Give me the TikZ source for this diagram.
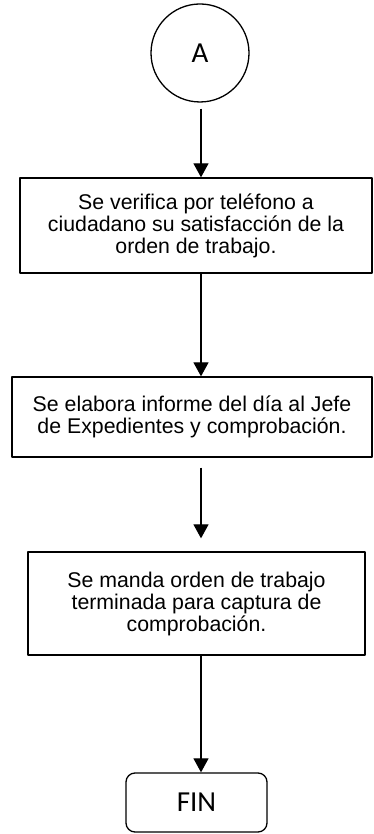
\documentclass[tikz,border=0pt]{standalone}
\usepackage{fontspec}
\setmainfont{Liberation Sans}
\newfontfamily\calibri{Carlito}
\usetikzlibrary{arrows.meta}
\begin{document}
\begin{tikzpicture}[x=1pt, y=1pt, line join=round,
		caja/.style={draw, line width=1.3pt, align=center, inner sep=0pt, font=\fontsize{21.3}{22}\selectfont},
		flecha/.style={line width=1.3pt, -{Triangle[length=14pt, width=15pt]}}]
				\useasboundingbox (0,0) rectangle (373,834);
				\node[circle, draw, line width=1.3pt, minimum size=98pt, inner sep=0pt, font=\calibri\fontsize{29}{29}\selectfont] (A) at (200,781) {A};
				\node[caja, minimum width=352pt, minimum height=95pt] (b1) at (196,608.5) {Se verifica por teléfono a\\ciudadano su satisfacción de la\\orden de trabajo.};
				\node[caja, minimum width=360pt, minimum height=80pt] (b2) at (192,417) {Se elabora informe del día al Jefe\\de Expedientes y comprobación.};
				\node[caja, minimum width=337pt, minimum height=103pt] (b3) at (196.5,230.5) {Se manda orden de trabajo\\terminada para captura de\\comprobación.};
				\node[draw, line width=1.3pt, rounded corners=9pt, minimum width=141pt, minimum height=59pt, inner sep=0pt, font=\calibri\fontsize{29}{29}\selectfont] (fin) at (196.5,31.5) {FIN};
				\coordinate (eje) at (201,0);
				\draw[flecha, shorten <=6pt] (A.south -| eje) -- (b1.north -| eje);
				\draw[flecha] (b1.south -| eje) -- (b2.north -| eje);
				\draw[flecha, shorten <=10pt, shorten >=13pt] (b2.south -| eje) -- (b3.north -| eje);
				\draw[flecha] (b3.south -| eje) -- (fin.north -| eje);
			\end{tikzpicture}
\end{document}
